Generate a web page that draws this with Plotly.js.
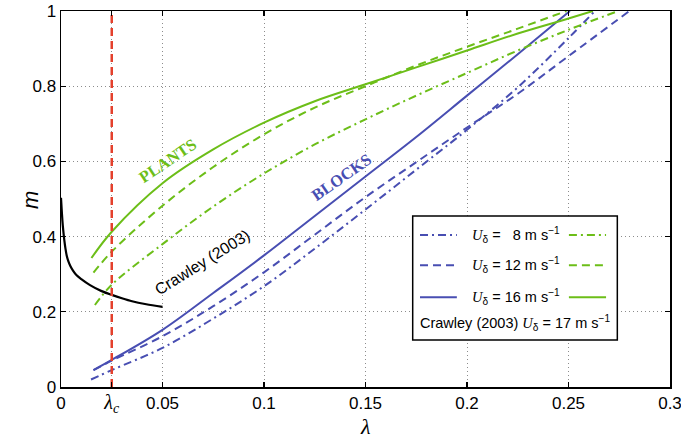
<!DOCTYPE html>
<html>
<head>
<meta charset="utf-8">
<script src="https://cdn.plot.ly/plotly-3.0.1.min.js"></script>
<style>html,body{margin:0;padding:0;background:#fff;}#chart{width:681px;height:440px;}</style>
</head>
<body>
<div id="chart"></div>
<script>
// ---- data ----
const blocks8_x  = [0.0148, 0.025, 0.05, 0.075, 0.1, 0.125, 0.15, 0.175, 0.2, 0.225, 0.25, 0.263];
const blocks8_y  = [0.020, 0.045, 0.104, 0.182, 0.268, 0.368, 0.472, 0.578, 0.684, 0.797, 0.928, 1.0];
const blocks12_x = [0.016, 0.025, 0.05, 0.075, 0.1, 0.125, 0.15, 0.175, 0.2, 0.225, 0.25, 0.28];
const blocks12_y = [0.045, 0.070, 0.135, 0.215, 0.305, 0.405, 0.505, 0.598, 0.690, 0.780, 0.880, 1.0];
const blocks16_x = [0.016, 0.025, 0.05, 0.075, 0.1, 0.125, 0.15, 0.175, 0.2, 0.225, 0.2507];
const blocks16_y = [0.045, 0.072, 0.152, 0.250, 0.350, 0.455, 0.560, 0.665, 0.775, 0.885, 1.0];

const plants8_x  = [0.0167, 0.025, 0.05, 0.075, 0.1, 0.125, 0.15, 0.175, 0.2, 0.225, 0.25, 0.2745];
const plants8_y  = [0.218, 0.272, 0.380, 0.480, 0.568, 0.645, 0.712, 0.775, 0.835, 0.895, 0.950, 1.0];
const plants12_x = [0.016, 0.025, 0.05, 0.075, 0.1, 0.125, 0.15, 0.175, 0.2, 0.225, 0.249];
const plants12_y = [0.304, 0.360, 0.482, 0.585, 0.672, 0.743, 0.800, 0.855, 0.905, 0.953, 1.0];
const plants16_x = [0.015, 0.025, 0.05, 0.075, 0.1, 0.125, 0.15, 0.175, 0.2, 0.225, 0.25, 0.262];
const plants16_y = [0.343, 0.413, 0.542, 0.632, 0.703, 0.760, 0.805, 0.850, 0.895, 0.940, 0.980, 1.0];

const crawley_x = [0, 0.0003, 0.0007, 0.0011, 0.0016, 0.0022, 0.0028, 0.0036, 0.0046, 0.006, 0.0077, 0.0100, 0.0143, 0.02, 0.025, 0.030, 0.035, 0.042, 0.05];
const crawley_y = [0.503, 0.475, 0.442, 0.417, 0.392, 0.368, 0.350, 0.335, 0.322, 0.309, 0.297, 0.287, 0.271, 0.255, 0.245, 0.236, 0.228, 0.220, 0.213];

const lambdaC = 0.025;
const xTickVals = [0, lambdaC, 0.05, 0.1, 0.15, 0.2, 0.25, 0.3];
const xTickText = ['0', '<span style="font-family:\'Liberation Serif\', serif;font-size:20px"><i>λ<sub>c</sub></i></span>', '0.05', '0.1', '0.15', '0.2', '0.25', '0.3'];
const yTickVals = [0, 0.2, 0.4, 0.6, 0.8, 1];
const yTickText = ['0', '0.2', '0.4', '0.6', '0.8', '1'];
const legendLabels = ['8', '12', '16'];
const crawleySpeed = '17';

// ---- styles ----
const BLUE = 'rgb(72,78,178)';
const GREEN = 'rgb(108,190,24)';
const RED = 'rgb(228,64,44)';
const DASHES = {'8': '8px,4px,2px,4px', '12': '8px,5px', '16': 'solid'};
const SANS = '"Liberation Sans", Arial, Helvetica, sans-serif';
const SERIF = '"Liberation Serif", "DejaVu Serif", serif';

function tr(x, y, color, dash) {
  return {x: x, y: y, type: 'scatter', mode: 'lines', hoverinfo: 'skip', showlegend: false,
          line: {color: color, width: 2, dash: dash, shape: 'spline', smoothing: 1}};
}

const traces = [
  tr(blocks8_x, blocks8_y, BLUE, DASHES['8']),
  tr(blocks12_x, blocks12_y, BLUE, DASHES['12']),
  tr(blocks16_x, blocks16_y, BLUE, DASHES['16']),
  tr(plants8_x, plants8_y, GREEN, DASHES['8']),
  tr(plants12_x, plants12_y, GREEN, DASHES['12']),
  tr(plants16_x, plants16_y, GREEN, DASHES['16']),
  {x: crawley_x, y: crawley_y, type: 'scatter', mode: 'lines', hoverinfo: 'skip', showlegend: false,
   line: {color: 'black', width: 2.2, shape: 'spline', smoothing: 0.8}},
  {x: [lambdaC, lambdaC], y: [0, 1], type: 'scatter', mode: 'lines', hoverinfo: 'skip', showlegend: false,
   line: {color: RED, width: 2.5, dash: '8px,5px'}}
];

// ---- manual legend (paper coordinates) ----
const rowsY = [0.404, 0.324, 0.239];
const shapes = [{type: 'rect', xref: 'paper', yref: 'paper', x0: 0.5775, x1: 0.9135, y0: 0.125, y1: 0.4548,
                 fillcolor: 'white', line: {color: 'black', width: 1.5}, layer: 'above'}];
const annotations = [];
const uItal = '<span style="font-family:' + "'Liberation Serif', serif" + ';font-style:italic">U</span><sub>δ</sub>';
legendLabels.forEach((s, i) => {
  shapes.push({type: 'line', xref: 'paper', yref: 'paper', x0: 0.5895, x1: 0.650, y0: rowsY[i], y1: rowsY[i],
               line: {color: BLUE, width: 2, dash: DASHES[s]}, layer: 'above'});
  shapes.push({type: 'line', xref: 'paper', yref: 'paper', x0: 0.834, x1: 0.895, y0: rowsY[i], y1: rowsY[i],
               line: {color: GREEN, width: 2, dash: DASHES[s]}, layer: 'above'});
  const pad = s.length === 1 ? '&nbsp;&nbsp;' : '';
  annotations.push({xref: 'paper', yref: 'paper', x: 0.671, y: rowsY[i], xanchor: 'left', yanchor: 'middle',
    showarrow: false, font: {family: SANS, size: 14.5, color: 'black'},
    text: uItal + ' = ' + pad + s + ' m s<sup>−1</sup>'});
});
annotations.push({xref: 'paper', yref: 'paper', x: 0.7447, y: 0.170, xanchor: 'center', yanchor: 'middle',
  showarrow: false, font: {family: SANS, size: 14.5, color: 'black'},
  text: 'Crawley (2003) ' + uItal + ' = ' + crawleySpeed + ' m s<sup>−1</sup>'});

// curve labels
annotations.push({x: 0.0527, y: 0.603, xref: 'x', yref: 'y', showarrow: false, textangle: -34,
  text: '<b>PLANTS</b>', font: {family: SERIF, size: 16.5, color: GREEN}});
annotations.push({x: 0.138, y: 0.558, xref: 'x', yref: 'y', showarrow: false, textangle: -35,
  text: '<b>BLOCKS</b>', font: {family: SERIF, size: 16.5, color: BLUE}});
annotations.push({x: 0.0694, y: 0.332, xref: 'x', yref: 'y', showarrow: false, textangle: -32,
  text: 'Crawley (2003)', font: {family: SANS, size: 16, color: 'black'}});

// axis titles (placed as in the reference)
annotations.push({xref: 'paper', yref: 'paper', x: 0.5, y: -0.106, xanchor: 'center', yanchor: 'middle',
  showarrow: false, text: '<i>λ</i>', font: {family: SERIF, size: 22, color: 'black'}});
annotations.push({xref: 'paper', yref: 'paper', x: -0.051, y: 0.497, xanchor: 'center', yanchor: 'middle',
  showarrow: false, textangle: -90, text: '<i>m</i>', font: {family: SANS, size: 22, color: 'black'}});

const axisCommon = {showline: true, linecolor: 'black', linewidth: 1.5, mirror: 'ticks',
  ticks: 'inside', ticklen: 5, tickwidth: 1.2, tickcolor: 'black',
  showgrid: true, gridcolor: 'rgb(140,140,140)', griddash: '1px,3px', gridwidth: 1,
  zeroline: false, tickfont: {family: SANS, size: 17, color: 'black'}, fixedrange: true,
  ticklabeloverflow: 'allow'};

const layout = {
  width: 681, height: 440,
  margin: {l: 61, r: 11, t: 11, b: 53},
  paper_bgcolor: 'white', plot_bgcolor: 'white',
  showlegend: false,
  xaxis: Object.assign({}, axisCommon, {range: [-1e-7, 0.3000001], tickmode: 'array', tickvals: xTickVals, ticktext: xTickText}),
  yaxis: Object.assign({}, axisCommon, {range: [-1e-7, 1.0000001], tickmode: 'array', tickvals: yTickVals, ticktext: yTickText}),
  shapes: shapes,
  annotations: annotations
};

Plotly.newPlot('chart', traces, layout, {staticPlot: true, displayModeBar: false});
</script>
</body>
</html>
